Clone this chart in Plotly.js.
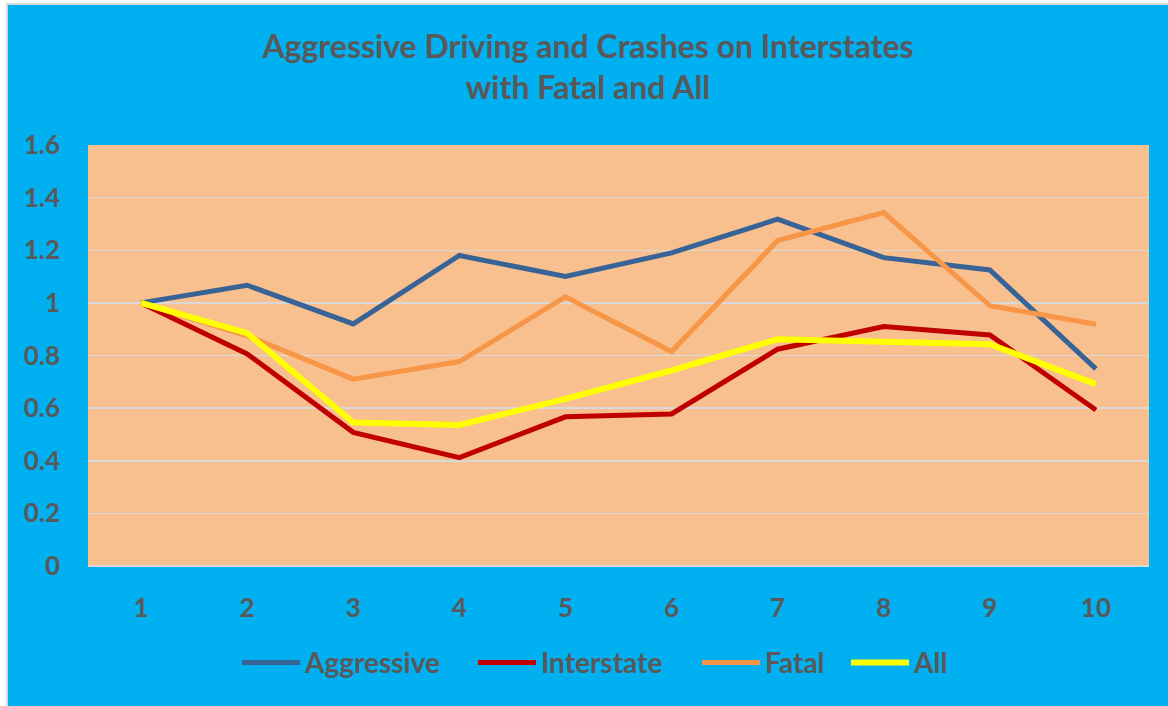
<!DOCTYPE html>
<html>
<head>
<meta charset="utf-8">
<script src="https://cdn.plot.ly/plotly-3.0.1.min.js"></script>
<style>
  html, body { margin: 0; padding: 0; background: #ffffff; width: 1168px; height: 706px; overflow: hidden; }
  #chart { position: absolute; left: 6px; top: 3px; width: 1160px; height: 703px; border-left: 2px solid #d9d9d9; border-top: 2px solid #d9d9d9; }
</style>
</head>
<body>
<div id="chart"></div>
<script>
const categories = ["1", "2", "3", "4", "5", "6", "7", "8", "9", "10"];
const aggressive = [1.0, 1.067, 0.92, 1.18, 1.10, 1.19, 1.318, 1.172, 1.125, 0.749];
const interstate = [1.0, 0.806, 0.508, 0.412, 0.567, 0.578, 0.824, 0.910, 0.878, 0.593];
const fatal      = [1.0, 0.875, 0.71, 0.777, 1.023, 0.815, 1.237, 1.343, 0.989, 0.919];
const allCrashes = [1.0, 0.885, 0.545, 0.536, 0.635, 0.743, 0.862, 0.852, 0.843, 0.691];
const yTicks = [0, 0.2, 0.4, 0.6, 0.8, 1, 1.2, 1.4, 1.6];
const yTickText = ["0", "0.2", "0.4", "0.6", "0.8", "1", "1.2", "1.4", "1.6"];

const textColor = "#595959";
const fontFam = "Lato, 'Open Sans', sans-serif";

function series(name, y, color, width, lw) {
  return { type: "scatter", mode: "lines", name: name, x: categories, y: y,
           line: { color: color, width: width, shape: "linear" }, hoverinfo: "x+y",
           legendwidth: lw };
}

const data = [
  series("Aggressive", aggressive, "#386396", 5, 163),
  series("Interstate", interstate, "#C00000", 5, 151),
  series("Fatal", fatal, "#F79646", 5, 76),
  series("All", allCrashes, "#FFFF00", 6, 81)
];

const layout = {
  width: 1160, height: 703,
  paper_bgcolor: "#00B0F0",
  plot_bgcolor: "#F8BF8F",
  margin: { l: 80, r: 19, t: 140, b: 142 },
  font: { family: fontFam, color: textColor },
  title: {
    text: "<b>Aggressive Driving and Crashes on Interstates<br>with Fatal and All</b>",
    font: { family: fontFam, size: 32, color: textColor },
    x: 0.5, xanchor: "center", y: 0.925, yanchor: "middle"
  },
  xaxis: {
    type: "category",
    range: [-0.5, 9.5],
    showgrid: false, zeroline: false, showline: false,
    ticks: "", ticklabelstandoff: 24,
    tickfont: { family: fontFam, size: 26, color: textColor, weight: "bold" },
    fixedrange: true
  },
  yaxis: {
    range: [0, 1.6],
    tickvals: yTicks, ticktext: yTickText,
    showgrid: true, gridcolor: "#D9D9D9", gridwidth: 1.5,
    zeroline: true, zerolinecolor: "#D9D9D9", zerolinewidth: 1.5,
    showline: false, ticks: "", ticklabelstandoff: 27,
    tickfont: { family: fontFam, size: 26, color: textColor, weight: "bold" },
    fixedrange: true
  },
  showlegend: true,
  legend: {
    orientation: "h", x: 0.5, xanchor: "center", y: -0.23, yanchor: "middle",
    font: { family: fontFam, size: 28, color: textColor, weight: "bold" },
    bgcolor: "rgba(0,0,0,0)", itemwidth: 58, tracegroupgap: 0
  }
};

Plotly.newPlot("chart", data, layout, { displayModeBar: false, staticPlot: true });
</script>
</body>
</html>
